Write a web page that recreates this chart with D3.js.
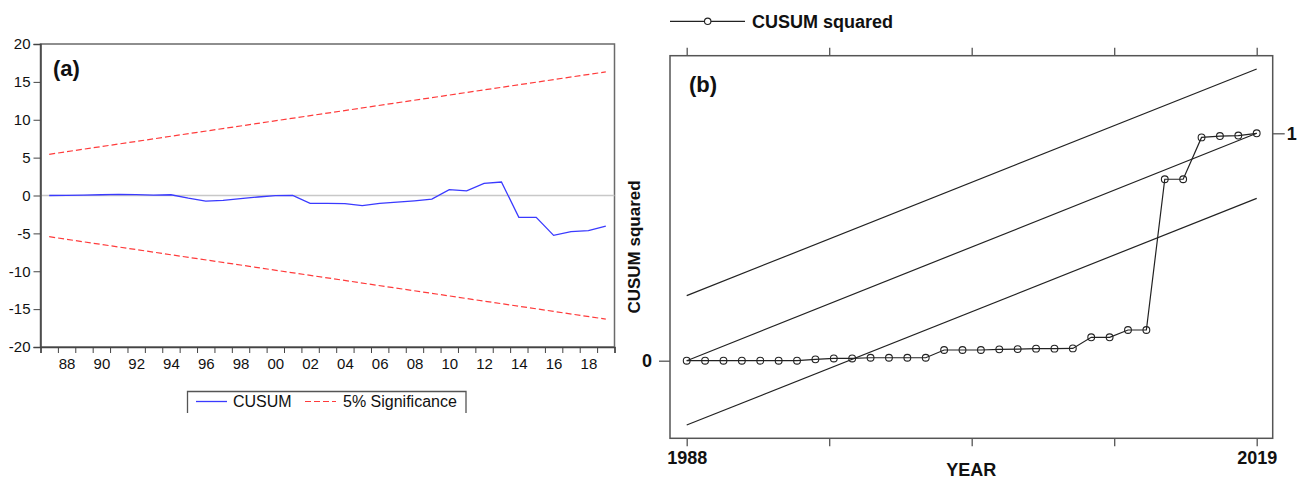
<!DOCTYPE html>
<html>
<head>
<meta charset="utf-8">
<script src="https://cdn.jsdelivr.net/npm/d3@7"></script>
<style>
  html, body { margin: 0; padding: 0; background: #fff; }
  svg { display: block; font-family: "Liberation Sans", Arial, sans-serif; }
</style>
</head>
<body>
<svg id="chart" width="1301" height="480"></svg>
<script>
// ---------- Panel (a): CUSUM ----------
const yearsA = [1987,1988,1989,1990,1991,1992,1993,1994,1995,1996,1997,1998,1999,2000,2001,2002,2003,2004,2005,2006,2007,2008,2009,2010,2011,2012,2013,2014,2015,2016,2017,2018,2019];
const cusum  = [0,0.02,0.05,0.10,0.15,0.12,0.05,0.10,-0.35,-0.73,-0.65,-0.42,-0.20,-0.02,0.0,-1.03,-1.03,-1.07,-1.34,-1.05,-0.88,-0.70,-0.48,0.77,0.60,1.60,1.78,-2.88,-2.88,-5.26,-4.78,-4.65,-4.03];
const sigUpper = [[1987, 5.44], [2019, 16.32]];
const sigLower = [[1987, -5.44], [2019, -16.32]];
const yTicksA = [-20,-15,-10,-5,0,5,10,15,20];
const xLabelYearsA = [1988,1990,1992,1994,1996,1998,2000,2002,2004,2006,2008,2010,2012,2014,2016,2018];
const legendA = ["CUSUM", "5% Significance"];
const panelA = "(a)";

// ---------- Panel (b): CUSUM squared ----------
const yearsB = [1988,1989,1990,1991,1992,1993,1994,1995,1996,1997,1998,1999,2000,2001,2002,2003,2004,2005,2006,2007,2008,2009,2010,2011,2012,2013,2014,2015,2016,2017,2018,2019];
const cusumSq = [0,0,0,0,0,0,0,0.006,0.010,0.010,0.013,0.013,0.013,0.013,0.047,0.047,0.047,0.050,0.051,0.053,0.053,0.054,0.103,0.103,0.135,0.135,0.798,0.798,0.982,0.988,0.990,1.0];
const bUpper = [[1988, 0.286], [2019, 1.283]];
const bMid   = [[1988, 0], [2019, 1]];
const bLower = [[1988, -0.283], [2019, 0.714]];
const bTickYears = [1988, 1995.75, 2003.5, 2011.25, 2019];
const bLabelYears = [1988, 2019];
const legendB = "CUSUM squared";
const yTitleB = "CUSUM squared";
const xTitleB = "YEAR";
const panelB = "(b)";

const svg = d3.select("#chart");
const FONT = "Liberation Sans, Arial, sans-serif";

// ===== Panel (a) =====
const aL = 40.5, aR = 614.5, aT = 44, aB = 347;
const xA = d3.scaleLinear().domain([yearsA[0] - 0.5, yearsA[yearsA.length - 1] + 0.5]).range([aL, aR]);
const yA = d3.scaleLinear().domain([-20, 20]).range([aB, aT]);

const gA = svg.append("g");
gA.append("rect").attr("x", aL).attr("y", aT).attr("width", aR - aL).attr("height", aB - aT)
  .attr("fill", "none").attr("stroke", "#6a6a6a").attr("stroke-width", 1.5);

// zero line
gA.append("line").attr("x1", aL).attr("x2", aR).attr("y1", yA(0)).attr("y2", yA(0))
  .attr("stroke", "#c8c8c8").attr("stroke-width", 1.5);

// y axis
const yAxisA = gA.append("g").attr("transform", `translate(${aL},0)`)
  .call(d3.axisLeft(yA).tickValues(yTicksA).tickSize(7).tickPadding(3).tickFormat(d => String(d)));
yAxisA.select(".domain").attr("stroke", "#444").attr("stroke-width", 1.5);
yAxisA.selectAll(".tick line").attr("stroke", "#444");
yAxisA.selectAll("text").attr("font-size", 15).attr("fill", "#111").attr("font-family", FONT);

// x axis: ticks at year boundaries
const boundaries = yearsA.map(y => y - 0.5).concat([yearsA[yearsA.length - 1] + 0.5]);
const xAxisA = gA.append("g").attr("transform", `translate(0,${aB})`)
  .call(d3.axisBottom(xA).tickValues(boundaries).tickSize(6).tickFormat(""));
xAxisA.select(".domain").attr("stroke", "#444").attr("stroke-width", 1.5);
xAxisA.selectAll(".tick line").attr("stroke", "#444");
const xLabA = gA.append("g").attr("transform", `translate(0,${aB})`)
  .call(d3.axisBottom(xA).tickValues(xLabelYearsA).tickSize(0).tickPadding(11)
    .tickFormat(d => String(d % 100).padStart(2, "0")));
xLabA.select(".domain").remove();
xLabA.selectAll("text").attr("font-size", 15).attr("fill", "#111").attr("font-family", FONT);

// significance lines
const lineA = d3.line().x(d => xA(d[0])).y(d => yA(d[1]));
[sigUpper, sigLower].forEach(s => {
  gA.append("path").attr("d", lineA(s)).attr("fill", "none")
    .attr("stroke", "#ff3b3b").attr("stroke-width", 1.2).attr("stroke-dasharray", "6,3");
});
// cusum line
gA.append("path").attr("d", d3.line().x((d, i) => xA(yearsA[i])).y(d => yA(d))(cusum))
  .attr("fill", "none").attr("stroke", "#3a3aff").attr("stroke-width", 1.3);

gA.append("text").attr("x", 53).attr("y", 76).attr("font-size", 22).attr("font-weight", "bold")
  .attr("fill", "#111").text(panelA);

// legend (a)
const lg = gA.append("g");
lg.append("path").attr("d", "M187.5,413 V391.5 H466 V413").attr("fill", "none")
  .attr("stroke", "#555").attr("stroke-width", 1.3);
lg.append("line").attr("x1", 196).attr("x2", 227).attr("y1", 401.5).attr("y2", 401.5)
  .attr("stroke", "#3a3aff").attr("stroke-width", 1.3);
lg.append("text").attr("x", 233).attr("y", 407).attr("font-size", 16).attr("fill", "#111").text(legendA[0]);
lg.append("line").attr("x1", 305).attr("x2", 336).attr("y1", 401.5).attr("y2", 401.5)
  .attr("stroke", "#ff3b3b").attr("stroke-width", 1.2).attr("stroke-dasharray", "6,3");
lg.append("text").attr("x", 343).attr("y", 407).attr("font-size", 16).attr("fill", "#111").text(legendA[1]);

// ===== Panel (b) =====
const bL = 670, bR = 1272.7, bT = 55.7, bB = 438.3;
const xB = d3.scaleLinear().domain([1988, 2019]).range([686.7, 1256.7]);
const yB = d3.scaleLinear().domain([0, 1]).range([360.7, 133.3]);
const gB = svg.append("g");

gB.append("rect").attr("x", bL).attr("y", bT).attr("width", bR - bL).attr("height", bB - bT)
  .attr("fill", "none").attr("stroke", "#555").attr("stroke-width", 1.5);

const topAx = gB.append("g").attr("transform", `translate(0,${bT})`)
  .call(d3.axisTop(xB).tickValues(bTickYears).tickSize(8).tickFormat(""));
topAx.select(".domain").remove();
topAx.selectAll(".tick line").attr("stroke", "#555").attr("stroke-width", 1.3);

const botAx = gB.append("g").attr("transform", `translate(0,${bB})`)
  .call(d3.axisBottom(xB).tickValues(bTickYears).tickSize(8).tickPadding(5)
    .tickFormat(d => bLabelYears.includes(d) ? String(d) : ""));
botAx.select(".domain").remove();
botAx.selectAll(".tick line").attr("stroke", "#555").attr("stroke-width", 1.3);
botAx.selectAll("text").attr("font-size", 18).attr("font-weight", "bold").attr("fill", "#111").attr("font-family", FONT);

const leftAx = gB.append("g").attr("transform", `translate(${bL},0)`)
  .call(d3.axisLeft(yB).tickValues([0]).tickSize(11).tickPadding(7).tickFormat(d => String(d)));
leftAx.select(".domain").remove();
leftAx.selectAll(".tick line").attr("stroke", "#555").attr("stroke-width", 1.3);
leftAx.selectAll("text").attr("font-size", 18).attr("font-weight", "bold").attr("fill", "#111").attr("font-family", FONT);

const rightAx = gB.append("g").attr("transform", `translate(${bR},0)`)
  .call(d3.axisRight(yB).tickValues([1]).tickSize(12).tickPadding(2).tickFormat(d => String(d)));
rightAx.select(".domain").remove();
rightAx.selectAll(".tick line").attr("stroke", "#555").attr("stroke-width", 1.3);
rightAx.selectAll("text").attr("font-size", 18).attr("font-weight", "bold").attr("fill", "#111").attr("font-family", FONT);

const lineB = d3.line().x(d => xB(d[0])).y(d => yB(d[1]));
[bUpper, bMid, bLower].forEach(s => {
  gB.append("path").attr("d", lineB(s)).attr("fill", "none").attr("stroke", "#222").attr("stroke-width", 1.2);
});
gB.append("path").attr("d", d3.line().x((d, i) => xB(yearsB[i])).y(d => yB(d))(cusumSq))
  .attr("fill", "none").attr("stroke", "#222").attr("stroke-width", 1.2);
gB.selectAll("circle.pt").data(cusumSq).join("circle").attr("class", "pt")
  .attr("cx", (d, i) => xB(yearsB[i])).attr("cy", d => yB(d)).attr("r", 3.4)
  .attr("fill", "none").attr("stroke", "#222").attr("stroke-width", 1.1);

gB.append("text").attr("x", 689).attr("y", 92).attr("font-size", 22).attr("font-weight", "bold")
  .attr("fill", "#111").text(panelB);

gB.append("text").attr("transform", `translate(640,${(bT + bB) / 2}) rotate(-90)`)
  .attr("text-anchor", "middle").attr("font-size", 17).attr("font-weight", "bold").attr("fill", "#111")
  .text(yTitleB);
gB.append("text").attr("x", (bL + bR) / 2).attr("y", 476).attr("text-anchor", "middle")
  .attr("font-size", 18).attr("font-weight", "bold").attr("fill", "#111").text(xTitleB);

// legend (b)
gB.append("line").attr("x1", 670).attr("x2", 745).attr("y1", 21.3).attr("y2", 21.3)
  .attr("stroke", "#222").attr("stroke-width", 1.2);
gB.append("circle").attr("cx", 707.7).attr("cy", 21.3).attr("r", 3.2)
  .attr("fill", "#fff").attr("stroke", "#222").attr("stroke-width", 1.1);
gB.append("text").attr("x", 752).attr("y", 27.5).attr("font-size", 18).attr("font-weight", "bold")
  .attr("fill", "#111").text(legendB);
</script>
</body>
</html>
